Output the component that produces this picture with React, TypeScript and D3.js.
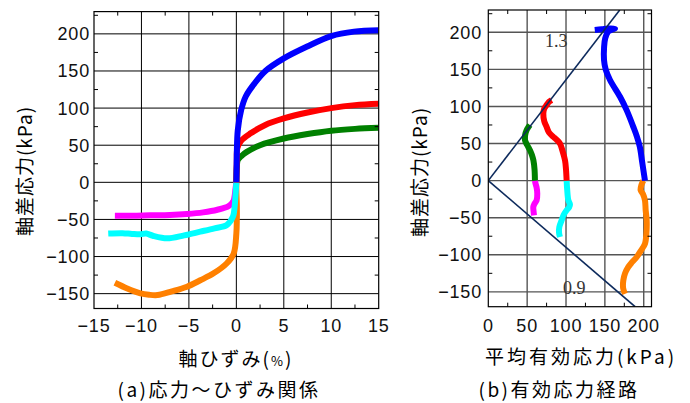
import React from "react";
import * as d3 from "d3";

// (a) stress ~ strain: axial strain (%) / deviator stress (kPa)
const blueStrain = [0, 0.02, 0.05, 0.15, 0.5, 1.0, 1.9, 3.06, 5, 7.46, 10, 12.4, 15];
const blueStress = [0, 15, 40, 70, 97, 116, 133, 150, 167, 183, 197, 203, 205];
const redStrain = [0, 0.05, 0.1, 0.5, 1.5, 3, 5, 7.5, 10, 12.5, 15];
const redStress = [0, 30, 46, 56, 66, 77, 86, 94, 100, 104, 106];
const greenStrain = [0, 0.05, 0.15, 0.5, 1.1, 2.5, 5, 7.5, 10, 12.5, 15];
const greenStress = [0, 20, 30, 35, 41, 50, 59, 65, 69.5, 72, 73.5];
const magentaStrain = [0, -0.1, -0.2, -0.3, -0.8, -2.0, -3.5, -5.2, -7, -9.1, -11, -12.8];
const magentaStress = [0, -10, -20, -25, -32, -37, -40.5, -42.7, -44, -44.5, -45, -45];
const cyanStrain = [0, -0.1, -0.2, -0.35, -1, -2.3, -3.8, -5.5, -7.3, -8.8, -9.5, -10.1, -11, -12, -13.5];
const cyanStress = [0, -20, -35, -46, -57.6, -62, -66.5, -71.5, -75.5, -72, -69, -70, -69.5, -68.5, -69];
const orangeStrain = [0, 0, 0.05, 0.05, 0, -0.28, -1, -2.4, -3.8, -5.2, -6.8, -8.3, -9.2, -10.1, -11.5, -12.8];
const orangeStress = [3, -10, -30, -50, -69, -96, -109, -122.6, -132, -140.7, -147, -151.9, -151.5, -149.6, -143, -135.3];

// (b) effective stress path: mean effective stress p' / deviator stress q (kPa)
const blueP = [201.6, 198, 195, 191, 186.6, 178, 169.5, 156.6, 151, 148.9, 149, 150.5, 154.4, 160, 163, 155, 146, 137];
const blueQ = [0, 25, 45.5, 60, 72.5, 95, 113, 135.6, 150, 162.6, 180, 192, 201, 204, 205, 205, 204, 203];
const redP = [100.8, 100, 98.7, 95.5, 92.2, 87, 83.7, 78, 75, 72, 70.8, 72, 75, 78, 81.5];
const redQ = [0, 15, 27.5, 40, 50, 56, 59, 65, 72.5, 80, 90.5, 97, 101.8, 106, 108.6];
const greenP = [60, 59.5, 58, 56, 53.6, 50, 47.2, 47.5, 49.3, 51.5, 53.6];
const greenQ = [0, 15, 27.5, 35, 41, 48, 54.5, 62, 68, 72, 75];
const magentaP = [60, 61, 62, 63, 62.2, 59.5, 57.9, 58.2, 58.8];
const magentaQ = [0, -5, -8.5, -17.6, -26.6, -31, -35.6, -41, -46.8];
const cyanP = [100.8, 101.5, 103, 105.1, 104, 100.8, 97, 94.4, 91.4, 91, 92.2];
const cyanQ = [0, -12, -26.6, -32, -36, -40, -46, -53.6, -62.6, -70, -76];
const orangeP = [199.5, 197, 196, 199, 201.6, 202.5, 203.8, 203.5, 201.6, 196, 191, 185, 180, 176, 173.7, 173.5, 175.9];
const orangeQ = [0, -6, -13, -18, -26.6, -40, -53.6, -70, -85, -95, -103, -110, -116.7, -125, -134.7, -145, -152.7];

// critical state lines q = M p'
const cslSlopes = [1.36, -0.9];
const cslLabels = ["1.3", "0.9"];

const strainTicks = [-15, -10, -5, 0, 5, 10, 15];
const pTicks = [0, 50, 100, 150, 200];
const qTicks = [-150, -100, -50, 0, 50, 100, 150, 200];

const colors = ["#0000ff", "#ff0000", "#008000", "#ff00ff", "#00ffff", "#ff8000"];

const jp = "'Noto Sans CJK JP', sans-serif";
const num = "'Liberation Sans', Arial, sans-serif";

const zip = (a: number[], b: number[]) => a.map((v, i) => [v, b[i]] as [number, number]);

const fmt = (v: number) => (v < 0 ? "\u2212" + Math.abs(v) : String(v));

const Frame = ({ x, y, xMinor, yMinor }) => {
  const [x0, x1] = x.range();
  const [y0, y1] = y.range();
  const t = 4;
  return (
    <g>
      <g stroke="#000" strokeWidth={1}>
        {xMinor.map(v => (
          <g key={"xm" + v}>
            <line x1={x(v)} x2={x(v)} y1={y0} y2={y0 - t} />
            <line x1={x(v)} x2={x(v)} y1={y1} y2={y1 + t} />
          </g>
        ))}
        {yMinor.map(v => (
          <g key={"ym" + v}>
            <line x1={x0} x2={x0 + t} y1={y(v)} y2={y(v)} />
            <line x1={x1} x2={x1 - t} y1={y(v)} y2={y(v)} />
          </g>
        ))}
      </g>
      <rect x={x0} y={y1} width={x1 - x0} height={y0 - y1} fill="none" stroke="#000" strokeWidth={1.2} />
    </g>
  );
};

const Grid = ({ x, y, gridX, gridY, color, width }) => {
  const [x0, x1] = x.range();
  const [y0, y1] = y.range();
  return (
    <g stroke={color} strokeWidth={width}>
      {gridX.map(v => (
        <line key={"gx" + v} x1={x(v)} x2={x(v)} y1={y0} y2={y1} />
      ))}
      {gridY.map(v => (
        <line key={"gy" + v} x1={x0} x2={x1} y1={y(v)} y2={y(v)} />
      ))}
    </g>
  );
};

const App = () => {
  // (a)
  const xa = d3.scaleLinear().domain([-15, 15]).range([94, 378.7]);
  const ya = d3.scaleLinear().domain([-170, 230]).range([308.5, 11.6]);
  // (b)
  const xb = d3.scaleLinear().domain([0, 210]).range([488.3, 651.5]);
  const yb = d3.scaleLinear().domain([-170, 230]).range([306.7, 10]);

  const lineA = d3.line().x(d => xa(d[0])).y(d => ya(d[1])).curve(d3.curveCatmullRom);
  const lineB = d3.line().x(d => xb(d[0])).y(d => yb(d[1])).curve(d3.curveCatmullRom);

  const seriesA = [
    zip(blueStrain, blueStress),
    zip(redStrain, redStress),
    zip(greenStrain, greenStress),
    zip(magentaStrain, magentaStress),
    zip(cyanStrain, cyanStress),
    zip(orangeStrain, orangeStress),
  ];
  const seriesB = [
    zip(blueP, blueQ),
    zip(redP, redQ),
    zip(greenP, greenQ),
    zip(magentaP, magentaQ),
    zip(cyanP, cyanQ),
    zip(orangeP, orangeQ),
  ];
  const drawOrder = [5, 3, 4, 2, 1, 0];

  const xaMinor = d3.range(-12.5, 15, 2.5).filter(v => v % 5 !== 0);
  const yMinor = d3.range(-150, 230, 25).filter(v => v % 50 !== 0);
  const xbMinor = d3.range(25, 210, 25).filter(v => v % 50 !== 0);

  const cslLines = cslSlopes.map(m => {
    const qEnd = m > 0 ? yb.domain()[1] : yb.domain()[0];
    return [[0, 0], [qEnd / m, qEnd]] as [number, number][];
  });

  return (
    <div style={{ position: "absolute", left: 0, top: 0 }}>
      <svg width={690} height={403} style={{ display: "block", background: "#fff" }}>
        <defs>
          <clipPath id="clipA">
            <rect x={94} y={11.6} width={284.7} height={296.9} />
          </clipPath>
          <clipPath id="clipB">
            <rect x={488.3} y={10} width={163.2} height={296.7} />
          </clipPath>
        </defs>

        {/* (a) */}
        <Grid x={xa} y={ya} gridX={[-10, -5, 0, 5, 10]} gridY={qTicks} color="#000" width={1} />
        <g clipPath="url(#clipA)" fill="none" strokeWidth={6} strokeLinejoin="round">
          {drawOrder.map(i => (
            <path key={i} d={lineA(seriesA[i])} stroke={colors[i]} />
          ))}
        </g>
        <Frame x={xa} y={ya} xMinor={xaMinor} yMinor={yMinor} />
        <g fontFamily={num} fontSize={18} fill="#111" letterSpacing={0.8}>
          {qTicks.map(v => (
            <text key={v} x={90} y={ya(v) + 6.5} textAnchor="end">{fmt(v)}</text>
          ))}
          {strainTicks.map(v => (
            <text key={v} x={xa(v)} y={332} textAnchor="middle">{fmt(v)}</text>
          ))}
        </g>
        <text x={23} y={171} transform="rotate(-90 23 171)" textAnchor="middle" dominantBaseline="central"
          fontFamily={jp} fontSize={19} letterSpacing={1}>軸差応力(kPa)</text>
        <text x={236} y={366} textAnchor="middle" fontFamily={jp} fontSize={19} letterSpacing={2}>
          軸ひずみ(<tspan fontSize={13}>%</tspan>)
        </text>
        <text x={219} y={397} textAnchor="middle" fontFamily={jp} fontSize={19} letterSpacing={2.5}>(a)応力～ひずみ関係</text>

        {/* (b) */}
        <Grid x={xb} y={yb} gridX={[50, 100, 150, 200]} gridY={qTicks} color="#555" width={1.4} />
        <g clipPath="url(#clipB)" fill="none" strokeWidth={6} strokeLinejoin="round">
          {drawOrder.map(i => (
            <path key={i} d={lineB(seriesB[i])} stroke={colors[i]} />
          ))}
          {cslLines.map((l, i) => (
            <path key={"c" + i} d={d3.line()(l.map(d => [xb(d[0]), yb(d[1])]))} stroke="#0d2a5c" strokeWidth={1.6} />
          ))}
        </g>
        <Frame x={xb} y={yb} xMinor={xbMinor} yMinor={yMinor} />
        <g fontFamily="'Liberation Serif', 'Times New Roman', serif" fontSize={18} fill="#333">
          <text x={545} y={46.5}>{cslLabels[0]}</text>
          <text x={563} y={294}>{cslLabels[1]}</text>
        </g>
        <g fontFamily={num} fontSize={18} fill="#111" letterSpacing={0.8}>
          {qTicks.map(v => (
            <text key={v} x={482} y={yb(v) + 6.5} textAnchor="end">{fmt(v)}</text>
          ))}
          {pTicks.map(v => (
            <text key={v} x={xb(v)} y={332} textAnchor="middle">{fmt(v)}</text>
          ))}
        </g>
        <text x={418} y={172} transform="rotate(-90 418 172)" textAnchor="middle" dominantBaseline="central"
          fontFamily={jp} fontSize={19} letterSpacing={1}>軸差応力(kPa)</text>
        <text x={581} y={364} textAnchor="middle" fontFamily={jp} fontSize={19} letterSpacing={3}>平均有効応力(kPa)</text>
        <text x={559} y={397} textAnchor="middle" fontFamily={jp} fontSize={19} letterSpacing={2.5}>(b)有効応力経路</text>
      </svg>
    </div>
  );
};

export default App;
